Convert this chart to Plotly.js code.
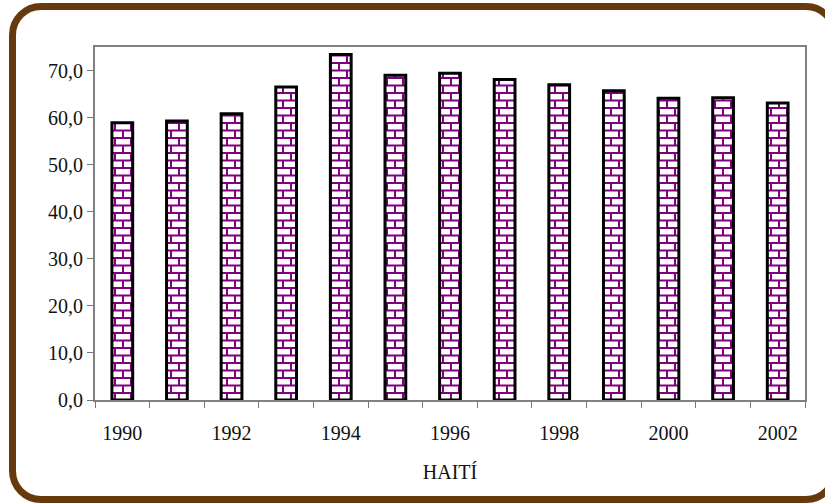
<!DOCTYPE html>
<html>
<head>
<meta charset="utf-8">
<script src="https://cdn.plot.ly/plotly-3.0.1.min.js"></script>
<style>
  html, body { margin: 0; padding: 0; width: 825px; height: 504px; overflow: hidden; background: #fff; }
  #chart { position: absolute; left: 0; top: 0; width: 825px; height: 504px; }
  #frame { position: absolute; left: 9px; top: 3px; width: 815px; height: 486px;
           border: 7px solid #663a0c; border-radius: 32px; pointer-events: none; }
</style>
</head>
<body>
<div id="chart"></div>
<div id="frame"></div>
<script>
const years = [1990, 1991, 1992, 1993, 1994, 1995, 1996, 1997, 1998, 1999, 2000, 2001, 2002];
const values = [58.9, 59.3, 60.8, 66.5, 73.4, 69.0, 69.4, 68.1, 67.0, 65.7, 64.1, 64.2, 63.1];
const yTicks = [0, 10, 20, 30, 40, 50, 60, 70];
const labelYears = [1990, 1992, 1994, 1996, 1998, 2000, 2002];
const axisTitle = 'HAITÍ';

const boundaries = years.map(y => y - 0.5).concat([years[years.length - 1] + 0.5]);
const xr = [years[0] - 0.5, years[years.length - 1] + 0.5];
const font = { family: '"Liberation Serif", "Times New Roman", serif', size: 20, color: '#111' };

const trace = {
  type: 'bar', x: years, y: values, width: 0.38,
  marker: { color: '#ffffff', line: { color: '#000', width: 3 },
            pattern: { shape: '+', fgcolor: '#800080', bgcolor: '#ffffff', size: 8, solidity: 0.2 } },
  hoverinfo: 'x+y'
};
const dummy = { type: 'scatter', x: xr, y: [null, null], xaxis: 'x2', yaxis: 'y', showlegend: false, hoverinfo: 'skip' };

const layout = {
  width: 825, height: 504,
  margin: { l: 95, r: 20, t: 47, b: 104, autoexpand: false },
  paper_bgcolor: 'rgba(0,0,0,0)', plot_bgcolor: '#fff',
  separators: ',.',
  showlegend: false,
  font: font,
  xaxis: {
    range: xr, tickvals: boundaries, ticktext: boundaries.map(() => ''),
    ticks: 'outside', ticklen: 6, tickcolor: '#777', tickwidth: 1,
    showline: true, linecolor: '#808080', linewidth: 2, mirror: true,
    showgrid: false, zeroline: false, automargin: false
  },
  xaxis2: {
    overlaying: 'x', range: xr, tickvals: labelYears, ticktext: labelYears.map(String),
    ticks: 'outside', ticklen: 15, tickcolor: 'rgba(0,0,0,0)',
    showline: false, showgrid: false, zeroline: false, side: 'bottom',
    tickfont: font, automargin: false,
    title: { text: axisTitle, font: font, standoff: 21 }
  },
  yaxis: {
    range: [0, 75], tickvals: yTicks, tickformat: '.1f',
    ticks: 'outside', ticklen: 6, tickcolor: '#777', tickwidth: 1,
    showline: true, linecolor: '#808080', linewidth: 2, mirror: true,
    showgrid: false, zeroline: false, tickfont: font, automargin: false
  }
};

Plotly.newPlot('chart', [trace, dummy], layout, { displayModeBar: false, staticPlot: true }).then(function (gd) {
  const ns = 'http://www.w3.org/2000/svg';
  gd.querySelectorAll('pattern').forEach(function (p) {
    p.setAttribute('width', 16);
    p.setAttribute('height', 15);
    p.setAttribute('patternUnits', 'userSpaceOnUse');
    while (p.firstChild) p.removeChild(p.firstChild);
    const r = document.createElementNS(ns, 'rect');
    r.setAttribute('width', 16); r.setAttribute('height', 15); r.setAttribute('fill', '#fff');
    p.appendChild(r);
    const path = document.createElementNS(ns, 'path');
    path.setAttribute('d', 'M0,1 H16 M0,8.5 H16 M4,1 V8.5 M12,8.5 V15');
    path.setAttribute('stroke', '#800080');
    path.setAttribute('stroke-width', 2);
    path.setAttribute('fill', 'none');
    p.appendChild(path);
  });
});
</script>
</body>
</html>
